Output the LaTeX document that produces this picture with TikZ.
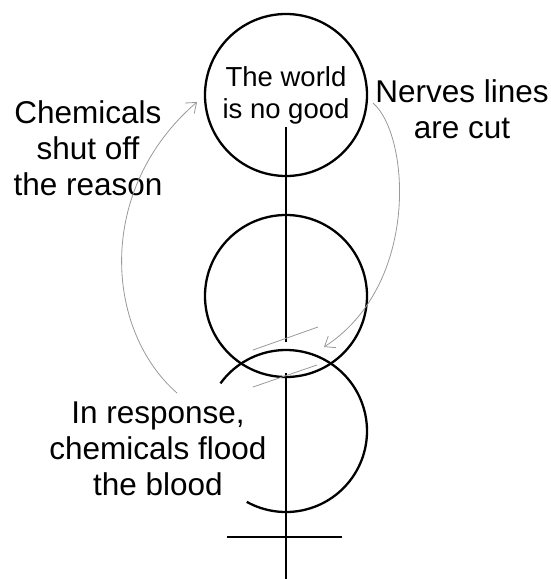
\documentclass[tikz,border=0pt]{standalone}
\usepackage{fontspec}
\setmainfont{Liberation Sans}
\usetikzlibrary{arrows.meta}
\begin{document}
\begin{tikzpicture}[x=1pt,y=-1pt,
  thick line/.style={line width=2.3pt, black},
  ring/.style={circle, draw, line width=2.3pt, minimum size=162pt, inner sep=0pt},
  thin gray/.style={line width=0.8pt, black!40},
  gray arrow/.style={thin gray, -{Straight Barb[length=9pt,width=14pt]}},
  biglabel/.style={align=center, inner sep=0pt, font=\fontsize{31.5}{36}\selectfont},
  ringtext/.style={align=center, font=\fontsize{27.5}{32}\selectfont}]
\path[use as bounding box] (0,0) rectangle (551,579);
% circles
\node[ring, ringtext] (top) at (286,95) {The world\\is no good};
\node[ring] (mid) at (286,296) {};
\draw[thick line] (286,431) ++(216:81) arc[start angle=216, end angle=479, radius=81];
% stems
\coordinate (s1) at (286,127);
\coordinate (s2) at (286,342);
\coordinate (s3) at (286,373);
\coordinate (s4) at (286,579);
\coordinate (c1) at (227,537);
\coordinate (c2) at (342,537);
\draw[thick line] (s1) -- (s2);
\draw[thick line] (s3) -- (s4);
\draw[thick line] (c1) -- (c2);
% gray cut lines
\coordinate (g1a) at (253,350);
\coordinate (g1b) at (318,327);
\coordinate (g2a) at (253,387);
\coordinate (g2b) at (317,365);
\draw[thin gray] (g1a) -- (g1b);
\draw[thin gray] (g2a) -- (g2b);
% labels
\node[biglabel] (chem) at (88,148) {Chemicals\\shut off\\the reason};
\node[biglabel] (nerve) at (462,109) {Nerves lines\\are cut};
\node[biglabel] (resp) at (158,449) {In response,\\chemicals flood\\the blood};
% arrows
\coordinate (la) at (177,393);
\coordinate (lb) at (197,102);
\coordinate (ra) at (373,103);
\coordinate (rb) at (324,347);
\draw[gray arrow] (la) .. controls (105,330) and (95,190) .. (lb);
\draw[gray arrow] (ra) .. controls (410,135) and (420,285) .. (rb);
\end{tikzpicture}
\end{document}
